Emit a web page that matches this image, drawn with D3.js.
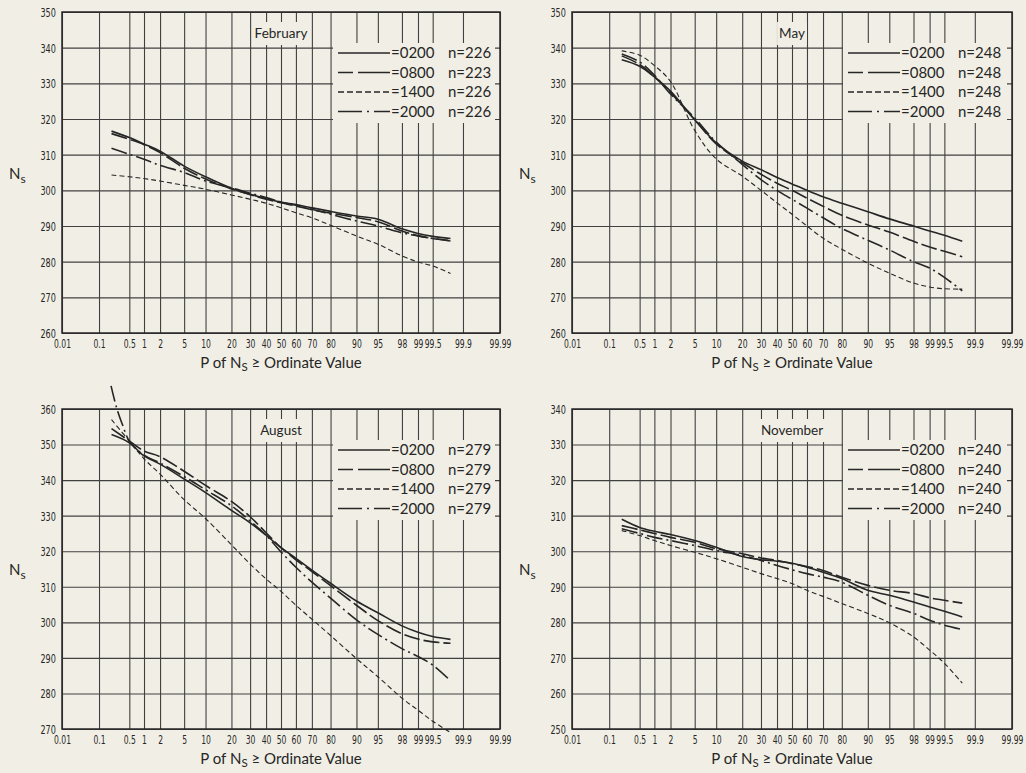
<!DOCTYPE html>
<html><head><meta charset="utf-8">
<script src="https://cdn.jsdelivr.net/npm/d3@7"></script>
<style>
body{margin:0;background:#f1efe5;}
svg{display:block;}
</style></head><body>
<svg id="c" width="1026" height="773"></svg>
<script>
// ---------- DATA ----------
const probTicks = [0.01,0.1,0.5,1,2,5,10,20,30,40,50,60,70,80,90,95,98,99,99.5,99.9,99.99];
const probTickLabels = ["0.01","0.1","0.5","1","2","5","10","20","30","40","50","60","70","80","90","95","98","99","99.5","99.9","99.99"];
const hours = ["0200","0800","1400","2000"];
const probs = [0.2,0.5,1,2,5,10,20,30,40,50,60,70,80,90,95,98,99,99.5,99.8];

const febTicks = [260,270,280,290,300,310,320,330,340,350];
const febN = [226,223,226,226];
const feb0200 = [316.6,314.8,313.0,311.0,306.8,303.8,300.6,298.9,297.7,296.7,296.0,295.1,294.1,292.8,291.9,289.2,287.9,287.1,286.5];
const feb0800 = [315.9,314.3,312.8,310.6,306.2,303.2,300.4,298.8,297.5,296.5,295.6,294.6,293.6,292.4,291.2,288.6,287.3,286.5,285.9];
const feb1400 = [304.3,303.8,303.3,302.6,301.4,300.3,298.7,297.5,296.4,295.1,293.7,292.3,290.2,287.2,284.9,281.6,279.9,278.8,276.7];
const feb2000 = [311.8,310.1,308.7,307.0,305.0,302.6,300.7,299.2,298.0,296.7,295.8,294.7,293.3,291.4,290.0,288.1,287.2,286.5,285.8];

const mayTicks = [260,270,280,290,300,310,320,330,340,350];
const mayN = [248,248,248,248];
const may0200 = [336.6,334.8,331.8,327.8,319.8,313.3,308.2,305.8,303.6,301.8,300.0,298.2,296.4,294.0,292.0,290.0,288.6,287.4,285.7];
const may0800 = [337.7,335.3,331.8,327.4,319.8,313.0,307.8,304.5,302.0,300.0,297.8,295.5,293.0,290.3,288.3,285.7,284.1,282.9,281.4];
const may1400 = [339.1,337.9,335.0,330.5,316.8,308.8,304.0,300.0,296.5,293.3,290.0,286.6,283.5,279.6,276.8,274.0,272.9,272.4,272.3];
const may2000 = [338.2,336.0,332.3,327.0,320.3,313.5,307.3,303.0,300.0,297.5,295.0,292.3,289.3,286.0,283.3,280.0,278.2,275.6,271.8];

const augTicks = [270,280,290,300,310,320,330,340,350,360];
const augN = [279,279,279,279];
const aug0200 = [352.8,350.5,346.8,344.5,340.3,336.5,331.5,328.0,324.5,321.0,318.0,314.7,311.0,306.0,302.7,299.0,297.2,296.0,295.2];
const aug0800 = [354.5,351.0,348.2,346.6,342.5,338.5,334.0,329.7,325.2,321.0,317.6,314.3,310.3,304.8,300.5,296.8,295.3,294.5,294.1];
const aug1400 = [357.0,351.0,346.0,341.7,334.5,329.2,321.8,316.4,312.2,308.7,304.8,300.9,296.3,289.8,284.7,278.7,275.3,272.2,269.0];
const aug2000Probs = [0.195,0.26,0.35,0.5,1,2,5,10,20,30,40,50,60,70,80,90,95,98,99,99.5,99.8];
const aug2000 = [366.5,360.5,355.8,351.0,347.0,344.8,341.0,337.3,332.8,328.5,324.5,319.8,315.5,311.3,306.8,300.7,296.6,292.6,290.4,288.0,283.6];

const novTicks = [250,260,270,280,290,300,310,320,330,340];
const novN = [240,240,240,240];
const nov0200 = [309.0,306.7,305.6,304.7,303.0,301.1,298.5,297.6,297.2,296.6,295.5,294.1,292.3,289.0,287.6,285.7,284.3,283.1,281.5];
const nov0800 = [307.2,306.0,305.0,303.9,302.5,300.7,299.3,298.1,297.4,296.5,295.7,294.6,292.7,290.4,289.0,288.1,286.9,286.2,285.4];
const nov1400 = [305.8,304.4,303.0,301.6,299.7,297.9,295.5,293.7,292.3,290.9,289.0,287.3,285.3,282.5,279.9,275.9,272.2,268.5,262.9];
const nov2000 = [306.3,305.0,303.9,303.0,301.6,300.2,298.8,297.4,296.0,294.8,293.7,292.7,291.3,287.6,284.8,282.5,280.6,279.2,278.0];

// ---------- helpers ----------
function probit(p){
  const a=[-3.969683028665376e+01,2.209460984245205e+02,-2.759285104469687e+02,1.383577518672690e+02,-3.066479806614716e+01,2.506628277459239e+00];
  const b=[-5.447609879822406e+01,1.615858368580409e+02,-1.556989798598866e+02,6.680131188771972e+01,-1.328068155288572e+01];
  const c=[-7.784894002430293e-03,-3.223964580411365e-01,-2.400758277161838e+00,-2.549732539343734e+00,4.374664141464968e+00,2.938163982698783e+00];
  const d=[7.784695709041462e-03,3.224671290700398e-01,2.445134137142996e+00,3.754408661907416e+00];
  const pl=0.02425, ph=1-pl; let q,r;
  if(p<pl){q=Math.sqrt(-2*Math.log(p));return (((((c[0]*q+c[1])*q+c[2])*q+c[3])*q+c[4])*q+c[5])/((((d[0]*q+d[1])*q+d[2])*q+d[3])*q+1);}
  if(p<=ph){q=p-0.5;r=q*q;return (((((a[0]*r+a[1])*r+a[2])*r+a[3])*r+a[4])*r+a[5])*q/(((((b[0]*r+b[1])*r+b[2])*r+b[3])*r+b[4])*r+1);}
  q=Math.sqrt(-2*Math.log(1-p));return -(((((c[0]*q+c[1])*q+c[2])*q+c[3])*q+c[4])*q+c[5])/((((d[0]*q+d[1])*q+d[2])*q+d[3])*q+1);
}

const INK = "#262626", GRID = "#404040", BG = "#f1efe5";
const styles = [
  {dash:null, w:1.6, legendDash:null},
  {dash:"16,4", w:1.6, legendDash:"15,5,40"},
  {dash:"5,3", w:1.1, legendDash:"6,3"},
  {dash:"16,4,2,4", w:1.6, legendDash:"24,5,2,5,40"}
];

const panels = [
  {title:"February", box:[62,12,500,333], ticks:febTicks, n:febN,
   series:[[probs,feb0200],[probs,feb0800],[probs,feb1400],[probs,feb2000]]},
  {title:"May", box:[572,12,1012,333], ticks:mayTicks, n:mayN,
   series:[[probs,may0200],[probs,may0800],[probs,may1400],[probs,may2000]]},
  {title:"August", box:[62,409,500,729], ticks:augTicks, n:augN,
   series:[[probs,aug0200],[probs,aug0800],[probs,aug1400],[aug2000Probs,aug2000]]},
  {title:"November", box:[572,409,1012,729], ticks:novTicks, n:novN,
   series:[[probs,nov0200],[probs,nov0800],[probs,nov1400],[probs,nov2000]]}
];

const svg = d3.select("#c");
svg.append("rect").attr("width",1026).attr("height",773).attr("fill",BG);

panels.forEach(P=>{
  const [L,T,R,B] = P.box;
  const zx = d3.scaleLinear().domain([probit(0.0001),probit(0.9999)]).range([L,R]);
  const x = p => zx(probit(p/100));
  const y = d3.scaleLinear().domain([P.ticks[0],P.ticks[P.ticks.length-1]]).range([B,T]);
  const g = svg.append("g");

  // x axis + vertical grid
  const xAxis = d3.axisBottom(zx)
    .tickValues(probTicks.map(p=>probit(p/100)))
    .tickFormat((d,i)=>probTickLabels[i])
    .tickSize(-(B-T)).tickSizeOuter(0);
  const gx = g.append("g").attr("transform",`translate(0,${B})`).call(xAxis);
  gx.select(".domain").remove();
  gx.selectAll(".tick line").attr("stroke",GRID).attr("stroke-width",1.1);
  gx.selectAll(".tick text").attr("y",15).attr("dy",null)
    .attr("transform","scale(0.74,1)")
    .attr("fill",INK).style("font-family","'DejaVu Sans Condensed','DejaVu Sans',sans-serif").style("font-size","11.5px");

  // y axis + horizontal grid
  const yAxis = d3.axisLeft(y).tickValues(P.ticks).tickFormat(d3.format("d"))
    .tickSize(-(R-L)).tickSizeOuter(0).tickPadding(0);
  const gy = g.append("g").attr("transform",`translate(${L},0)`).call(yAxis);
  gy.select(".domain").remove();
  gy.selectAll(".tick line").attr("stroke",GRID).attr("stroke-width",1.1);
  gy.selectAll(".tick text").attr("x",-8.5).attr("dy","0.35em")
    .attr("transform","scale(0.72,1)")
    .attr("fill",INK).style("font-family","'DejaVu Sans Condensed','DejaVu Sans',sans-serif").style("font-size","12.5px");

  // title with background
  const tt = g.append("text").attr("x",x(50)).attr("y",T+25.5).attr("text-anchor","middle")
    .attr("fill",INK).style("font-family","Lato,'Noto Sans',sans-serif").style("font-size","13.5px").text(P.title);
  const tb = tt.node().getBBox();
  g.insert("rect", function(){return tt.node();})
    .attr("x",tb.x-2).attr("y",T+10).attr("width",tb.width+4).attr("height",23).attr("fill",BG);

  // legend background
  const lg = g.append("g");
  lg.append("rect").attr("x",L+271).attr("y",T+31).attr("width",(R-5)-(L+271)).attr("height",80).attr("fill",BG);

  // curves
  const line = d3.line().x(d=>x(d[0])).y(d=>y(d[1])).curve(d3.curveCatmullRom.alpha(0.5));
  P.series.forEach((s,i)=>{
    const pts = s[0].map((p,k)=>[p,s[1][k]]);
    g.append("path").attr("d",line(pts)).attr("fill","none").attr("stroke",INK)
      .attr("stroke-width",styles[i].w).attr("stroke-dasharray",styles[i].dash)
      .attr("stroke-linejoin","round");
  });

  // legend items
  hours.forEach((h,i)=>{
    const cy = T+41+i*19.5;
    lg.append("line").attr("x1",L+276).attr("x2",L+328).attr("y1",cy).attr("y2",cy)
      .attr("stroke",INK).attr("stroke-width",1.5).attr("stroke-dasharray",styles[i].legendDash);
    lg.append("text").attr("x",L+329).attr("y",cy+5.3).attr("fill",INK)
      .style("font-family","Lato,'Noto Sans',sans-serif").style("font-size","15px").text("="+h);
    lg.append("text").attr("x",L+386).attr("y",cy+5.3).attr("fill",INK)
      .style("font-family","Lato,'Noto Sans',sans-serif").style("font-size","15px").text("n="+P.n[i]);
  });

  // border
  g.append("rect").attr("x",L).attr("y",T).attr("width",R-L).attr("height",B-T)
    .attr("fill","none").attr("stroke",INK).attr("stroke-width",1.5);

  // y title
  const yt = g.append("text").attr("x",L-53).attr("y",(T+B)/2+6).attr("fill",INK)
    .style("font-family","Lato,'Noto Sans',sans-serif").style("font-size","15px");
  yt.append("tspan").text("N");
  yt.append("tspan").attr("dy",4).style("font-size","12px").text("s");

  // x title
  const xt = g.append("text").attr("x",x(50)).attr("y",B+35).attr("text-anchor","middle").attr("fill",INK)
    .style("font-family","Lato,'Noto Sans',sans-serif").style("font-size","15px");
  xt.append("tspan").text("P of N");
  xt.append("tspan").attr("dy",3).style("font-size","11.5px").text("S");
  xt.append("tspan").attr("dy",-3).text(" \u2265 Ordinate Value");
});
</script>
</body></html>
